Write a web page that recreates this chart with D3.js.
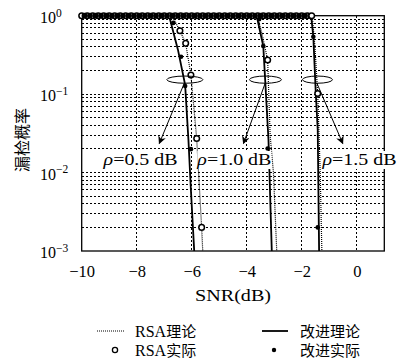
<!DOCTYPE html>
<html><head><meta charset="utf-8">
<script src="https://cdn.jsdelivr.net/npm/d3@7/dist/d3.min.js"></script>
<style>body{margin:0;background:#fff}svg{display:block}</style>
</head><body>
<svg id="c" width="397" height="361"></svg>
<script>
// ---------- data ----------
const xTicks = [-10, -8, -6, -4, -2, 0];
const yTickExp = [0, -1, -2, -3];
const rhoLabels = ["\u03C1=0.5 dB", "\u03C1=1.0 dB", "\u03C1=1.5 dB"];
const legendLabels = ["RSA\u7406\u8BBA", "\u6539\u8FDB\u7406\u8BBA", "RSA\u5B9E\u9645", "\u6539\u8FDB\u5B9E\u9645"];

// flat part (p = 1) of the simulated series
const flatSNR = [-10,-9.8,-9.6,-9.4,-9.2,-9,-8.8,-8.6,-8.4,-8.2,-8,-7.8,-7.6,-7.4,-7.2,-7,-6.8,-6.6,-6.4,-6.2,-6,-5.8,-5.6,-5.4,-5.2,-5,-4.8,-4.6,-4.4,-4.2,-4,-3.8,-3.6,-3.4,-3.2,-3,-2.8,-2.6,-2.4,-2.2,-2,-1.8];
const flatP = flatSNR.map(() => 1);

// improved theory (solid)
const impTheorySNR = [
  [-10, -6.86, -6.79, -6.50, -6.24, -6.12, -6.03, -5.91],
  [-10, -3.64, -3.40, -3.33, -3.21, -3.09],
  [-10, -1.66, -1.58, -1.49, -1.42, -1.37]
];
const impTheoryP = [
  [1, 1, 0.90, 0.366, 0.131, 0.026, 0.006, 0.001],
  [1, 1, 0.41, 0.151, 0.026, 0.001],
  [1, 1, 0.54, 0.102, 0.035, 0.001]
];
// RSA theory (dotted)
const rsaTheorySNR = [
  [-10, -6.72, -6.43, -6.22, -6.03, -5.82, -5.64, -5.60],
  [-10, -3.62, -3.45, -3.24, -3.15, -3.03, -2.91],
  [-10, -1.62, -1.52, -1.42, -1.33, -1.27]
];
const rsaTheoryP = [
  [1, 1, 0.644, 0.444, 0.175, 0.027, 0.002, 0.001],
  [1, 1, 0.60, 0.272, 0.03, 0.01, 0.001],
  [1, 1, 0.40, 0.10, 0.01, 0.001]
];
// RSA actual (circles)
const rsaActSNR = [
  [-6.43, -6.22, -6.03, -5.82, -5.64],
  [-3.24],
  [-1.64, -1.42]
];
const rsaActP = [
  [0.644, 0.444, 0.175, 0.0272, 0.002],
  [0.272],
  [1, 0.102]
];
// improved actual (dots)
const impActSNR = [
  [-6.67, -6.39, -6.24, -6.03],
  [-3.55, -3.40, -3.24],
  [-1.58, -1.42]
];
const impActP = [
  [0.81, 0.30, 0.127, 0.0199],
  [0.90, 0.41, 0.0203],
  [0.54, 0.002]
];
// annotation anchors (SNR / probability)
const ellipseSNR = [-6.25, -3.32, -1.43];
const ellipseP = 0.153;
const arrowStartSNR = [-6.27, -3.33, -1.45];
const arrowStartP = 0.138;
const arrowEndSNR = [-7.18, -4.12, -0.51];
const arrowEndP = 0.0235;
const labelSNR = [-7.86, -4.45, 0.10];

// ---------- chart ----------
const svg = d3.select("#c");
const L = 81.7, R = 384.3, T = 15.7, B = 251;
const x = d3.scaleLinear().domain([-10, 1]).range([L, R]);
const y = d3.scaleLog().domain([1e-3, 1]).range([B, T]);
const serif = "'Liberation Serif','Times New Roman',serif";
const cjk = "'Noto Sans CJK SC','Noto Sans CJK JP',sans-serif";

// grid
const grid = svg.append("g").attr("stroke", "#000").attr("stroke-width", 1)
  .attr("stroke-dasharray", "2.5,1.5").attr("shape-rendering", "crispEdges");
const yGridVals = [];
[-3, -2, -1].forEach(e => { for (let k = 1; k <= 9; k++) yGridVals.push(k * Math.pow(10, e)); });
grid.selectAll("line.h").data(yGridVals.filter(v => v > 1e-3)).join("line")
  .attr("x1", L).attr("x2", R).attr("y1", d => y(d)).attr("y2", d => y(d));
grid.selectAll("line.v").data(xTicks.filter(v => v > -10)).join("line")
  .attr("x1", d => x(d)).attr("x2", d => x(d)).attr("y1", T).attr("y2", B);

// axes via d3
const xAxis = d3.axisBottom(x).tickValues(xTicks).tickSize(0).tickFormat(d => d < 0 ? "\u2212" + Math.abs(d) : d);
const gx = svg.append("g").attr("transform", `translate(0,${B})`).call(xAxis);
gx.select(".domain").remove();
gx.selectAll("text").attr("font-family", serif).attr("font-size", 16.5).attr("fill", "#000").attr("dy", 0).attr("y", 25.5);

const yAxis = d3.axisLeft(y).tickValues(yTickExp.map(e => Math.pow(10, e))).tickSize(0).tickFormat("");
const gy = svg.append("g").attr("transform", `translate(${L},0)`).call(yAxis);
gy.select(".domain").remove();
gy.selectAll(".tick").each(function (d) {
  const t = d3.select(this).append("text").attr("x", 40 - L).attr("y", 6.8)
    .attr("font-family", serif).attr("font-size", 16).attr("fill", "#000").attr("text-anchor", "start");
  t.append("tspan").text("10");
  const e = Math.round(Math.log10(d));
  t.append("tspan").attr("font-size", 11.5).attr("dy", -6.5).text(e < 0 ? "\u2212" + Math.abs(e) : e);
});

// frame
svg.append("rect").attr("x", L).attr("y", T).attr("width", R - L).attr("height", B - T)
  .attr("fill", "none").attr("stroke", "#000").attr("stroke-width", 1.3);

// curves
const line = d3.line().x(d => x(d[0])).y(d => y(d[1]));
const curves = svg.append("g").attr("fill", "none");
impTheorySNR.forEach((s, i) => {
  curves.append("path").attr("d", line(s.map((v, j) => [v, impTheoryP[i][j]])))
    .attr("stroke", "#000").attr("stroke-width", 1.8);
});
rsaTheorySNR.forEach((s, i) => {
  curves.append("path").attr("d", line(s.map((v, j) => [v, rsaTheoryP[i][j]])))
    .attr("stroke", "#000").attr("stroke-width", 1.2).attr("stroke-dasharray", "1,1");
});

// markers
const mk = svg.append("g");
const circ = (sx, p) => mk.append("circle").attr("cx", x(sx)).attr("cy", y(p)).attr("r", 2.8)
  .attr("fill", "#fff").attr("stroke", "#000").attr("stroke-width", 1.5);
const dot = (sx, p, r) => mk.append("circle").attr("cx", x(sx)).attr("cy", y(p)).attr("r", r || 2.3).attr("fill", "#000");
flatSNR.forEach((s, j) => circ(s, flatP[j]));
flatSNR.forEach((s, j) => dot(s + 0.1, flatP[j], 2.9));
rsaActSNR.forEach((arr, i) => arr.forEach((s, j) => circ(s, rsaActP[i][j])));
impActSNR.forEach((arr, i) => arr.forEach((s, j) => dot(s, impActP[i][j])));

// annotations
const defs = svg.append("defs");
defs.append("marker").attr("id", "ah").attr("viewBox", "0 0 10 10").attr("refX", 9).attr("refY", 5)
  .attr("markerWidth", 10).attr("markerHeight", 8).attr("markerUnits", "userSpaceOnUse").attr("orient", "auto")
  .append("path").attr("d", "M0,0 L10,5 L0,10 L3,5 Z").attr("fill", "#000");
const ann = svg.append("g");
const rx = [18, 16, 15];
ellipseSNR.forEach((s, i) => {
  ann.append("ellipse").attr("cx", x(s)).attr("cy", y(ellipseP)).attr("rx", rx[i]).attr("ry", 3.6)
    .attr("fill", "none").attr("stroke", "#000").attr("stroke-width", 1);
  ann.append("line").attr("x1", x(arrowStartSNR[i])).attr("y1", y(arrowStartP))
    .attr("x2", x(arrowEndSNR[i])).attr("y2", y(arrowEndP))
    .attr("stroke", "#000").attr("stroke-width", 1).attr("marker-end", "url(#ah)");
});
labelSNR.forEach((s, i) => {
  const cx = x(s), by = 165;
  ann.append("rect").attr("x", cx - 37).attr("y", by - 14).attr("width", 74).attr("height", 18).attr("fill", "#fff");
  const t = ann.append("text").attr("x", cx).attr("y", by).attr("text-anchor", "middle")
    .attr("font-family", serif).attr("font-size", 16.5).attr("fill", "#000")
    .attr("textLength", 74).attr("lengthAdjust", "spacingAndGlyphs");
  t.append("tspan").attr("font-style", "italic").text(rhoLabels[i].slice(0, 1));
  t.append("tspan").text(rhoLabels[i].slice(1));
});

// axis title
svg.append("text").attr("x", x(-4.5)).attr("y", 301).attr("text-anchor", "middle")
  .attr("font-family", serif).attr("font-size", 16.5).attr("textLength", 76).attr("lengthAdjust", "spacingAndGlyphs").text("SNR(dB)");
svg.append("text").attr("transform", "translate(28,140) rotate(-90)").attr("text-anchor", "middle")
  .attr("font-family", cjk).attr("font-size", 16).text("\u6F0F\u68C0\u6982\u7387");

// legend
const lg = svg.append("g");
const rows = [331, 350];
lg.append("line").attr("x1", 97).attr("x2", 125).attr("y1", rows[0]).attr("y2", rows[0])
  .attr("stroke", "#000").attr("stroke-width", 1.2).attr("stroke-dasharray", "1,1");
lg.append("line").attr("x1", 262).attr("x2", 288).attr("y1", rows[0]).attr("y2", rows[0])
  .attr("stroke", "#000").attr("stroke-width", 1.8);
lg.append("circle").attr("cx", 115).attr("cy", rows[1]).attr("r", 2.6).attr("fill", "#fff").attr("stroke", "#000").attr("stroke-width", 1.3);
lg.append("circle").attr("cx", 274).attr("cy", rows[1]).attr("r", 2.2).attr("fill", "#000");
const lpos = [[135, rows[0]], [300, rows[0]], [135, rows[1]], [300, rows[1]]];
legendLabels.forEach((s, i) => {
  const t = lg.append("text").attr("x", lpos[i][0]).attr("y", lpos[i][1] + 5.5).attr("font-size", 15).attr("fill", "#000");
  const m = s.match(/^([A-Za-z]*)(.*)$/);
  if (m[1]) t.append("tspan").attr("font-family", serif).attr("font-size", 16).text(m[1]);
  t.append("tspan").attr("font-family", cjk).text(m[2]);
});
</script>
</body></html>
